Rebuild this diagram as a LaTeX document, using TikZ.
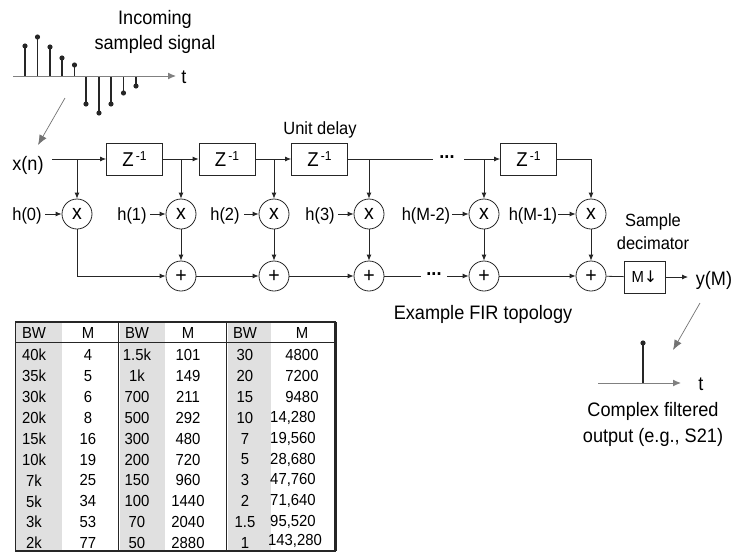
\documentclass[tikz,border=0pt]{standalone}
\usepackage{fontspec}
\setmainfont[FakeStretch=0.93]{Liberation Sans}
\newfontfamily\arrowfont{DejaVu Sans}
\usetikzlibrary{arrows.meta}
\newcommand{\zinv}{Z\raisebox{6pt}{\fontsize{13}{13}\selectfont\,-1}}

\begin{document}
\begin{tikzpicture}[x=1pt,y=-1pt,>={Latex[length=6pt,width=5pt]},
    line width=0.8pt,color=black!85,
    txt/.style={font=\fontsize{19.5}{19.5}\selectfont,inner sep=0pt,text=black},
    small/.style={font=\fontsize{17.7}{17.7}\selectfont,inner sep=0pt,text=black},
    cell/.style={font=\fontsize{16}{16}\selectfont,inner sep=0pt,text=black},
    delay/.style={draw,minimum width=56pt,minimum height=32pt,inner sep=0pt,text=black,font=\fontsize{20}{20}\selectfont},
    op/.style={draw,circle,minimum size=30pt,inner sep=0pt,text=black,font=\fontsize{21}{21}\selectfont},
    stem/.style={line width=1.5pt},
    pointer/.style={draw=black!55,line width=0.7pt,-{Latex[length=10pt,width=8pt]}},
    axis/.style={draw=black!50,line width=1pt,->,>={Latex[length=8pt,width=7pt]}}]
      \useasboundingbox (0,0) rectangle (737,552);
      %% Input signal
      \node[txt] (title1) at (155,19) {Incoming};
      \node[txt] (title2) at (155,44) {sampled signal};
      \coordinate (a1) at (13,76);
      \node[txt] (t1) at (184,77) {t};
      \coordinate (a2) at (176,76);
      \foreach \x/\y [count=\i] in {25/46,37.5/37,50/47,62/58,74.5/65,86/104,99/113,111/104,123.5/93,136/86} {
        \coordinate (s\i) at (\x,76);
        \coordinate (e\i) at (\x,\y);
        \draw[stem] (s\i) -- (e\i);
        \fill (e\i) circle (2.6pt);
      }
      \draw[axis] (a1) -- (a2);
      \coordinate (p1) at (65,98);
      \coordinate (p2) at (38,145);
      \draw[pointer] (p1) -- (p2);
      %% Delay line
      \node[txt] (xn) at (28,165) {x(n)};
      \node[delay] (z1) at (134.5,159) {\zinv};
      \node[delay,right of=z1,node distance=92.5pt] (z2) {\zinv};
      \node[delay,right of=z2,node distance=92.5pt] (z3) {\zinv};
      \node[delay,right of=z3,node distance=209pt] (z4) {\zinv};
      \node[small] (unit) at (320,130) {Unit delay};
      \coordinate (xs) at (52,159);
      \coordinate (g1) at (433,159);
      \coordinate (g2) at (464,159);
      \node[txt] (dots1) at (447,157) {\textbf{...}};
      \draw[->] (xs) -- (z1);
      \draw[->] (z1) -- (z2);
      \draw[->] (z2) -- (z3);
      \draw (z3) -- (g1);
      \draw[->] (g2) -- (z4);
      %% Multipliers
      \node[op] (m1) at (77,214) {x};
      \node[op,right of=m1,node distance=104pt] (m2) {x};
      \node[op,right of=m2,node distance=93pt] (m3) {x};
      \node[op,right of=m3,node distance=95pt] (m4) {x};
      \node[op,right of=m4,node distance=115pt] (m5) {x};
      \node[op,right of=m5,node distance=107pt] (m6) {x};
      \foreach \n in {1,...,5} {
        \draw[->] (m\n |- z1) -- (m\n);
      }
      \draw[->] (z4) -| (m6);
      %% Coefficients
      \foreach \n/\x/\s/\e/\lab in {1/27/45/62/h(0),2/132/150/166/h(1),3/225/244/259/h(2),4/320/338/354/h(3),5/426/452/469/h(M-2),6/533/558/576/h(M-1)} {
        \node[small] (h\n) at (\x,216) {\lab};
        \coordinate (hs\n) at (\s,214);
        \draw[->] (hs\n) -- (m\n);
      }
      %% Adders
      \node[op,below of=m2,node distance=62pt] (p2) {+};
      \node[op,below of=m3,node distance=62pt] (p3) {+};
      \node[op,below of=m4,node distance=62pt] (p4) {+};
      \node[op,below of=m5,node distance=62pt] (p5) {+};
      \node[op,below of=m6,node distance=62pt] (p6) {+};
      \foreach \n in {2,...,6} {
        \draw[->] (m\n) -- (p\n);
      }
      \coordinate (g3) at (421,276);
      \coordinate (g4) at (447,276);
      \node[txt] (dots2) at (434,274) {\textbf{...}};
      \draw[->] (m1) |- (p2);
      \draw[->] (p2) -- (p3);
      \draw[->] (p3) -- (p4);
      \draw (p4) -- (g3);
      \draw[->] (g4) -- (p5);
      \draw[->] (p5) -- (p6);
      %% Decimator and output
      \node[small] (dec1) at (653,222) {Sample};
      \node[small] (dec2) at (653,243) {decimator};
      \node[draw,minimum width=41pt,minimum height=32pt,inner sep=0pt,text=black,font=\fontsize{16}{16}\selectfont] (dec) at (644.5,277) {M{\arrowfont ↓}};
      \node[txt] (ym) at (714,280) {y(M)};
      \coordinate (yin) at (688,277);
      \draw (p6) -- (dec);
      \draw[->] (dec) -- (yin);
      \node[txt] (topo) at (483,314) {Example FIR topology};
      \coordinate (p3a) at (700,303);
      \coordinate (p3b) at (673,350);
      \draw[pointer] (p3a) -- (p3b);
      \coordinate (b1) at (598,383);
      \coordinate (b2) at (681,383);
      \coordinate (b3) at (643,383);
      \coordinate (b4) at (643,343);
      \draw[stem] (b3) -- (b4);
      \fill (b4) circle (2.6pt);
      \draw[axis] (b1) -- (b2);
      \node[txt] (t2) at (701,384) {t};
      \node[txt] (out1) at (653,411) {Complex filtered};
      \node[txt] (out2) at (653,437) {output (e.g., S21)};
      %% Table
      \fill[black!12] (16,323) rectangle (62,550);
      \fill[black!12] (120,323) rectangle (165,550);
      \fill[black!12] (228,323) rectangle (271,550);
      \draw[line width=1.2pt] (15.5,322) rectangle (335,551);
      \draw[line width=2.5pt] (336,322) -- (336,551);
      \draw[line width=1pt] (15.5,342) -- (335,342);
      \draw[line width=1.2pt] (118.5,322) -- (118.5,551);
      \draw[line width=1.2pt] (226.5,322) -- (226.5,551);
      \foreach \c/\x/\lab in {1/34/BW,2/88/M,3/137/BW,4/188/M,5/245/BW,6/302/M} {
        \node[cell] (head\c) at (\x,333) {\lab};
      }
      \foreach \a/\b/\c/\d/\e/\f/\xm/\dy [count=\i] in {
        40k/4/1.5k/101/30/4800/302/0,
        35k/5/1k/149/20/7200/302/0,
        30k/6/700/211/15/9480/302/0,
        20k/8/500/292/10/{14,280}/293/0,
        15k/16/300/480/7/{19,560}/293/0,
        10k/19/200/720/5/{28,680}/293/0,
        7k/25/150/960/3/{47,760}/293/0,
        5k/34/100/1440/2/{71,640}/293/0,
        3k/53/70/2040/1.5/{95,520}/293/0,
        2k/77/50/2880/1/{143,280}/295/-2} {
        \node[cell] (r\i a) at (34,{355+20.9*(\i-1)}) {\a};
        \node[cell] (r\i b) at (88,{355+20.9*(\i-1)}) {\b};
        \node[cell] (r\i c) at (137,{355+20.9*(\i-1)}) {\c};
        \node[cell] (r\i d) at (188,{355+20.9*(\i-1)}) {\d};
        \node[cell] (r\i e) at (245,{355+20.9*(\i-1)}) {\e};
        \node[cell] (r\i f) at (\xm,{355+20.9*(\i-1)+\dy}) {\f};
      }
    \end{tikzpicture}
\end{document}
